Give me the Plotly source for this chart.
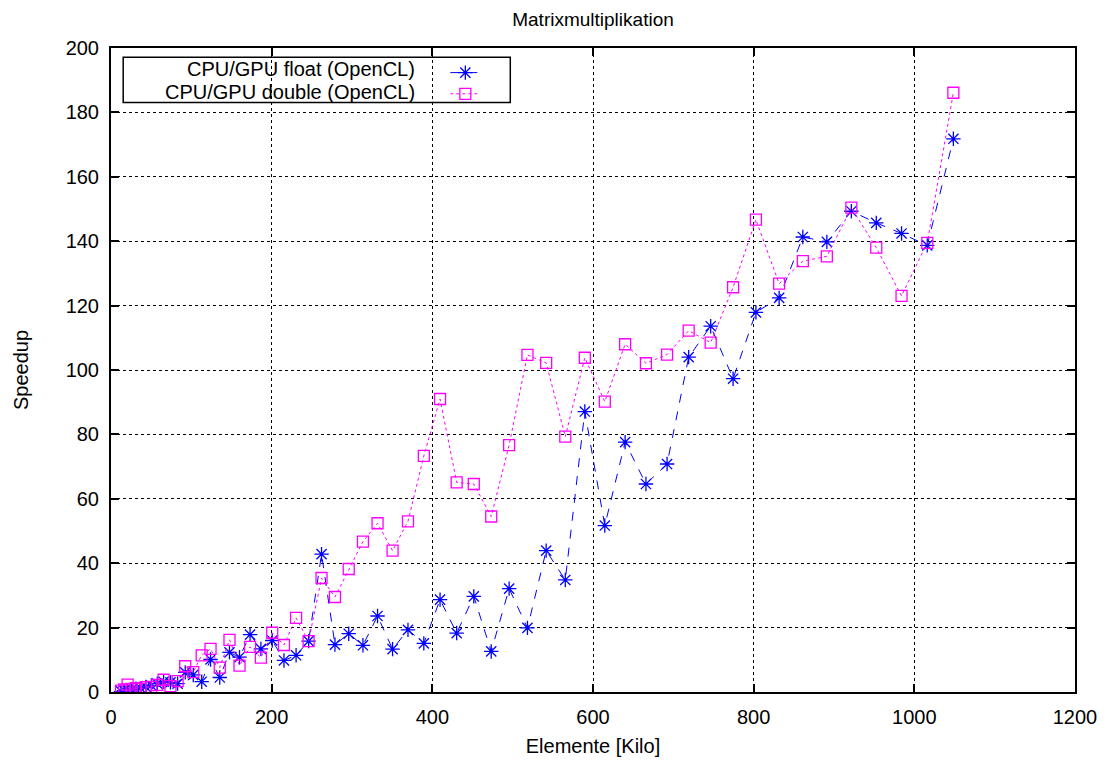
import plotly.graph_objects as go

# Elements (kilo) per measurement
elements = [12.5, 16.4, 20.7, 25.6, 31.0, 36.9, 43.3, 50.2, 57.6, 65.5, 74.0, 82.9,
            92.4, 102.4, 112.9, 123.9, 135.4, 147.5, 160.0, 173.1, 186.6, 200.7,
            215.3, 230.4, 246.0, 262.1, 278.8, 295.9, 313.6, 331.8, 350.5, 369.7,
            389.4, 409.6, 430.3, 451.6, 473.3, 495.6, 518.4, 541.7, 565.5, 589.8,
            614.7, 640.0, 665.9, 692.2, 719.1, 746.5, 774.4, 802.8, 831.7, 861.2,
            891.1, 921.6, 952.6, 984.1, 1016.1, 1048.6]

speedup_float = [0.2, 0.4, 0.5, 0.8, 1.0, 1.2, 1.6, 2.0, 2.6, 3.2, 3.0, 2.6,
                 6.1, 5.3, 3.2, 10.1, 4.5, 12.3, 10.8, 17.8, 13.4, 16.0,
                 9.8, 11.4, 15.8, 42.8, 14.7, 18.1, 14.5, 23.6, 13.3, 19.3,
                 15.1, 28.7, 18.3, 29.7, 12.6, 32.1, 19.9, 43.9, 34.8, 87.1,
                 51.7, 77.6, 64.6, 70.8, 104.0, 113.6, 97.3, 117.9, 122.4, 141.3,
                 139.8, 149.3, 145.7, 142.4, 138.7, 171.8]

speedup_double = [0.4, 0.8, 2.3, 1.0, 1.2, 1.0, 1.5, 1.6, 2.2, 3.8, 1.8, 3.4,
                  8.0, 6.2, 11.4, 13.4, 7.6, 16.2, 8.2, 14.0, 10.7, 18.4,
                  14.6, 23.0, 15.8, 35.4, 29.5, 38.2, 46.7, 52.4, 43.9, 53.0,
                  73.3, 91.0, 65.1, 64.6, 54.5, 76.7, 104.7, 102.2, 79.3, 103.8,
                  90.2, 108.0, 102.1, 104.8, 112.2, 108.5, 125.7, 146.7, 126.8, 133.8,
                  135.3, 150.4, 138.0, 123.0, 139.5, 186.1]

labels = ["CPU/GPU float (OpenCL)", "CPU/GPU double (OpenCL)"]

x_ticks = [0, 200, 400, 600, 800, 1000, 1200]
y_ticks = [0, 20, 40, 60, 80, 100, 120, 140, 160, 180, 200]

FONT = "Liberation Sans, Arial, sans-serif"
BLUE = "#0000ff"
MAGENTA = "#ff00ff"

fig = go.Figure()
fig.add_trace(go.Scatter(
    x=elements, y=speedup_float, mode="lines+markers", name=" ",
    line=dict(color=BLUE, width=1, dash="dash"),
    marker=dict(symbol="asterisk-open", size=12, color=BLUE,
                line=dict(color=BLUE, width=1.3)),
    hovertext=labels[0],
))
fig.add_trace(go.Scatter(
    x=elements, y=speedup_double, mode="lines+markers", name="  ",
    line=dict(color=MAGENTA, width=1, dash="dot"),
    marker=dict(symbol="square-open", size=11, color=MAGENTA,
                line=dict(color=MAGENTA, width=1.3)),
    hovertext=labels[1],
))

OFF = 8  # page body margin
W, H = 1102, 752
L, T = 102.5, 40
pw, ph = 964.5, 643.7
R = W - L - pw
B = H - T - ph

def px2x(p):
    return (p - OFF - L) / pw

def py2y(p):
    return 1 - (p - OFF - T) / ph

axis_common = dict(
    showline=True, linecolor="black", linewidth=2, mirror="ticks",
    ticks="inside", ticklen=8, tickwidth=1.5, tickcolor="black",
    showgrid=True, gridcolor="black", gridwidth=1, griddash="dot",
    zeroline=False, automargin=False, ticklabelstandoff=6,
    tickfont=dict(family=FONT, size=20, color="black"),
)

fig.update_layout(
    width=W, height=H,
    margin=dict(l=L, r=R, t=T, b=B, autoexpand=False),
    paper_bgcolor="white", plot_bgcolor="white",
    font=dict(family=FONT, size=20, color="black"),
    title=dict(text="Matrixmultiplikation", x=0.5, xref="paper",
               yref="container", y=1 - (19.5 - OFF) / H, yanchor="middle",
               pad=dict(t=0, b=0),
               font=dict(family=FONT, size=19, color="black")),
    xaxis=dict(range=[0, 1200], tickvals=x_ticks,
               title=dict(text="Elemente [Kilo]", standoff=12,
                          font=dict(family=FONT, size=20)),
               **axis_common),
    yaxis=dict(range=[0, 200], tickvals=y_ticks,
               title=dict(text="Speedup", standoff=32,
                          font=dict(family=FONT, size=20)),
               **axis_common),
    showlegend=True,
    legend=dict(x=px2x(445), y=py2y(57), xanchor="left", yanchor="top",
                bgcolor="rgba(0,0,0,0)", borderwidth=0,
                font=dict(family=FONT, size=14), tracegroupgap=0),
    shapes=[dict(type="rect", xref="paper", yref="paper",
                 x0=px2x(122.7), x1=px2x(510), y0=py2y(102.5), y1=py2y(57.3),
                 line=dict(color="black", width=1.5), fillcolor="white",
                 layer="between")],
    annotations=[
        dict(text=labels[0], xref="paper", yref="paper", x=px2x(417), y=py2y(69),
             xanchor="right", yanchor="middle", showarrow=False,
             font=dict(family=FONT, size=20, color="black")),
        dict(text=labels[1], xref="paper", yref="paper", x=px2x(417), y=py2y(92),
             xanchor="right", yanchor="middle", showarrow=False,
             font=dict(family=FONT, size=20, color="black")),
    ],
)

fig.write_html("out.html")
